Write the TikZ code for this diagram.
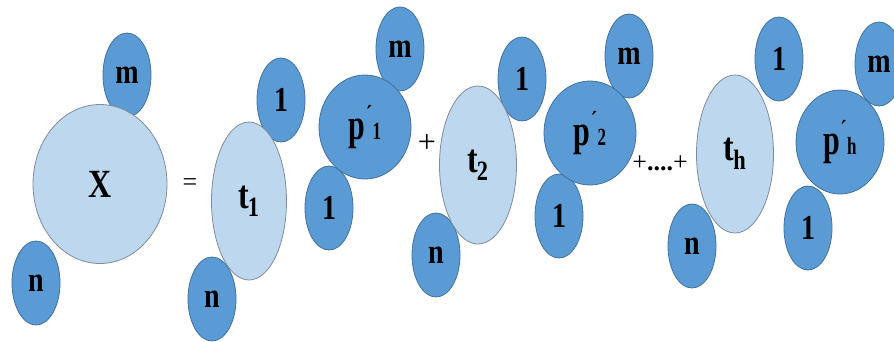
\documentclass[tikz,border=0pt]{standalone}
\usepackage{fontspec}
\setmainfont{Liberation Serif}
\usetikzlibrary{shapes.geometric}
\definecolor{darkfill}{HTML}{5B9BD5}
\definecolor{darkline}{HTML}{41719C}
\definecolor{lightfill}{HTML}{BDD7EE}
\definecolor{lightline}{HTML}{7F8C99}
\newcommand{\tall}[1]{\scalebox{1}[1.25]{#1}}
\newcommand{\pprime}[1]{\scalebox{1}[1.45]{p\kern0.5pt\raisebox{0.36em}{\fontsize{18}{18}\selectfont ´}\kern0.5pt{\fontsize{17}{17}\selectfont #1}}}
\begin{document}
\begin{tikzpicture}[x=1pt,y=-1pt,
  blob/.style={ellipse,draw=darkline,fill=darkfill,line width=0.8pt,inner sep=0pt,
    minimum width=48pt,minimum height=84pt,font=\fontsize{28}{28}\selectfont\bfseries},
  bigblob/.style={ellipse,draw=darkline,fill=darkfill,line width=0.8pt,inner sep=0pt,
    minimum width=92pt,minimum height=104pt,font=\fontsize{30}{30}\selectfont\bfseries},
  lightblob/.style={ellipse,draw=lightline,fill=lightfill,line width=0.8pt,inner sep=0pt,
    font=\fontsize{32}{32}\selectfont\bfseries},
  op/.style={inner sep=0pt,font=\fontsize{32}{32}\selectfont}]
\useasboundingbox (0,0) rectangle (894,341);
% group X
\node[blob] (xm) at (127,75) {\tall{m}};
\node[blob] (xn) at (36,283) {\tall{n}};
\node[lightblob,minimum width=134pt,minimum height=159pt] (x) at (100,184) {\tall{X}};
\node[op,font=\fontsize{26}{26}\selectfont] (eq) at (190,185) {=};
% group 1
\node[blob] (t1a) at (281,100) {\tall{1}};
\node[blob] (t1n) at (212,299) {\tall{n}};
\node[lightblob,minimum width=75pt,minimum height=158pt] (t1) at (249,201) {\raisebox{4pt}{\tall{t\kern-1pt\textsubscript{1}}}};
\node[blob] (p1m) at (400,49) {\tall{m}};
\node[blob] (p1a) at (329,208) {\tall{1}};
\node[bigblob] (p1) at (365,127) {\pprime{1}};
\node[op] (plus1) at (427,143) {+};
% group 2
\node[blob] (t2a) at (522,79) {\tall{1}};
\node[blob] (t2n) at (436,255) {\tall{n}};
\node[lightblob,minimum width=77pt,minimum height=158pt] (t2) at (478,165) {\raisebox{4pt}{\tall{t\kern-1pt\textsubscript{2}}}};
\node[blob] (p2m) at (629,56) {\tall{m}};
\node[blob] (p2a) at (559,216) {\tall{1}};
\node[bigblob] (p2) at (590,133) {\pprime{2}};
\node[op,font=\fontsize{26}{26}\selectfont] (dots) at (660,163) {+\textbf{....}+};
% group h
\node[blob] (tha) at (779,59) {\tall{1}};
\node[blob] (thn) at (692,246) {\tall{n}};
\node[lightblob,minimum width=77pt,minimum height=158pt] (th) at (735,154) {\raisebox{4pt}{\tall{t\kern-1pt\textsubscript{h}}}};
\node[blob] (phm) at (879,64) {\tall{m}};
\node[blob] (pha) at (808,228) {\tall{1}};
\node[bigblob,minimum width=88pt] (ph) at (840,142) {\pprime{h}};
\end{tikzpicture}
\end{document}
